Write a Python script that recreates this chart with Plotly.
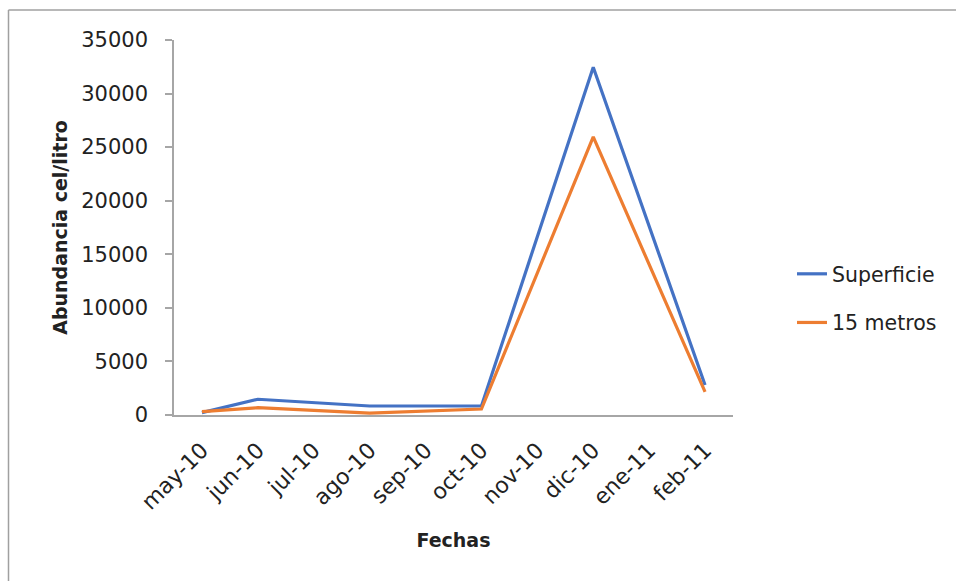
import plotly.graph_objects as go

fechas = ["may-10", "jun-10", "jul-10", "ago-10", "sep-10", "oct-10", "nov-10", "dic-10", "ene-11", "feb-11"]
superficie = [220, 1470, None, 840, None, 840, None, 32450, None, 2800]
metros15 = [310, 680, None, 170, None, 560, None, 25950, None, 2150]

FONT = "DejaVu Sans"
W, H = 956, 581
L, T = 174, 40
pw, ph = 559, 375
R, B = W - L - pw, H - T - ph

fig = go.Figure()
fig.add_trace(go.Scatter(x=fechas, y=superficie, mode="lines", name="Superficie",
                         connectgaps=True, legendgroup="a",
                         line=dict(color="#4472C4", width=3.2)))
fig.add_trace(go.Scatter(x=fechas, y=metros15, mode="lines", name="15 metros",
                         connectgaps=True, legendgroup="b",
                         line=dict(color="#ED7D31", width=3.2)))

fig.update_layout(
    width=W, height=H,
    margin=dict(l=L, r=R, t=T, b=B),
    paper_bgcolor="white", plot_bgcolor="white",
    font=dict(family=FONT, size=20, color="#222222"),
    showlegend=True,
    legend=dict(x=1.1055, xanchor="left", y=0.3107, yanchor="middle",
                font=dict(size=20.5, color="#222222"), tracegroupgap=19,
                bgcolor="rgba(0,0,0,0)"),
    xaxis=dict(type="category", categoryorder="array", categoryarray=fechas,
               range=[-0.5, 9.5], showline=True, linecolor="#A6A6A6", linewidth=1.5,
               ticks="", tickangle=-45, showgrid=False, zeroline=False,
               tickfont=dict(size=22), ticklabelstandoff=12,
               title=dict(text="<b>Fechas</b>", font=dict(size=19), standoff=20)),
    yaxis=dict(range=[0, 35000], tickvals=[0, 5000, 10000, 15000, 20000, 25000, 30000, 35000],
               ticktext=["0", "5000", "10000", "15000", "20000", "25000", "30000", "35000"],
               showline=True, linecolor="#A6A6A6", linewidth=1.5,
               ticks="outside", ticklen=7, tickcolor="#A6A6A6", tickwidth=1.5,
               showgrid=False, zeroline=False, tickfont=dict(size=21), ticklabelstandoff=13,
               title=dict(text="<b>Abundancia cel/litro</b>", font=dict(size=19), standoff=9)),
)

# outer chart frame: only its left and top edges fall inside the picture
x_left = (8.5 - L) / pw
y_top = (ph + T - 10) / ph
fig.add_shape(type="line", xref="paper", yref="paper",
              x0=x_left, x1=(W + 40 - L) / pw, y0=y_top, y1=y_top,
              line=dict(color="#A0A0A0", width=1.5), layer="below")
fig.add_shape(type="line", xref="paper", yref="paper",
              x0=x_left, x1=x_left, y0=y_top, y1=-(B + 40) / ph,
              line=dict(color="#A0A0A0", width=1.5), layer="below")

fig.write_html(
    "out.html",
    config={"displayModeBar": False},
    post_script="document.body.style.margin='0';"
                "document.documentElement.style.overflow='hidden';"
                "document.body.style.overflow='hidden';",
)
